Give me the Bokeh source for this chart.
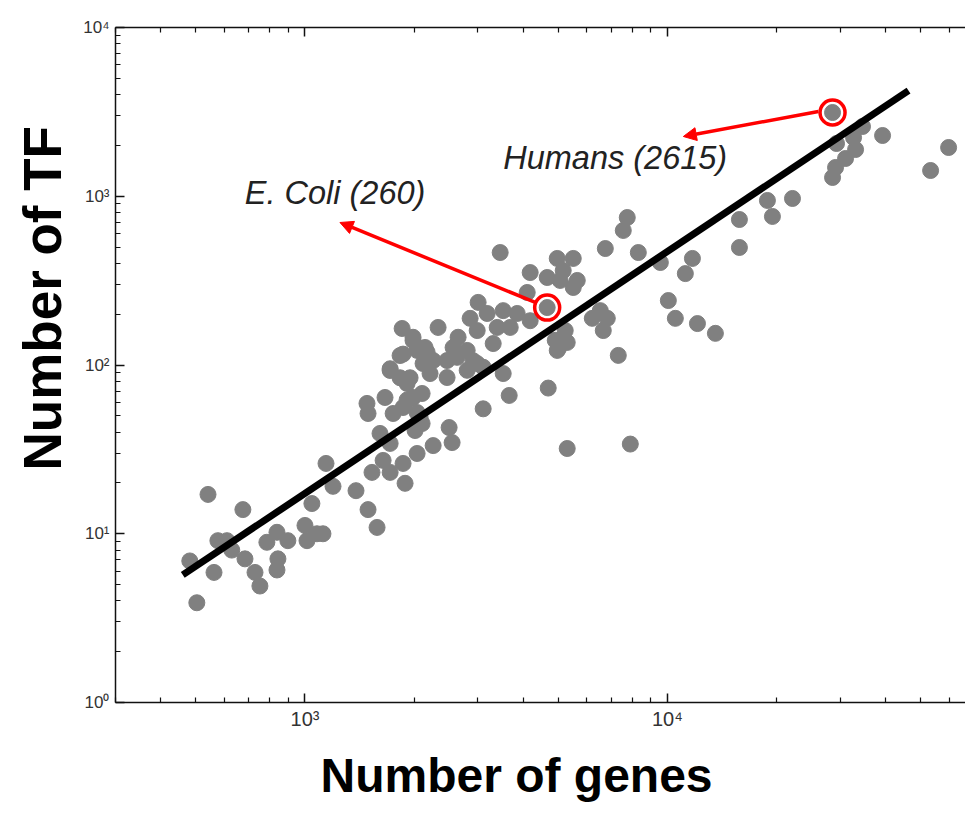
from bokeh.plotting import figure
from bokeh.models import Range1d, LogAxis, FixedTicker, Label, Arrow, NormalHead, CustomJSTickFormatter, Title
from bokeh.embed import file_html
from bokeh.resources import INLINE

# ---- data ----
genes = [481, 540, 503, 561, 575, 609, 628, 674, 683, 728,
         751, 785, 837, 842, 837, 897, 1000, 1013, 1079, 1121,
         1045, 1143, 1195, 1383, 1493, 1581, 1611, 1718, 1643, 1531,
         1718, 1865, 1889, 2039, 2013, 2258, 2499, 2547, 2105, 1483,
         1493, 1663, 1751, 1865, 1987, 2039, 1913, 2105, 1718, 1830,
         2118, 1987, 1854, 2330, 2258, 2467, 2467, 2563, 3457, 4968,
         4183, 4661, 4105, 3005, 2856, 3183, 3524, 3852, 2987, 3392,
         3307, 3685, 4183, 4905, 4968, 2646, 2803, 2630, 2173, 2118,
         1865, 1718, 1950, 2214, 2911, 3103, 3524, 3661, 3103, 4691,
         1913, 2078, 1987, 2145, 2039, 2803, 2987, 1830, 5500, 5160,
         5642, 5500, 5062, 6743, 7752, 7558, 8316, 9566, 11728, 11212,
         10064, 10522, 12108, 13572, 15810, 15810, 18890, 19500, 22150, 6531,
         6828, 6207, 6656, 5226, 5293, 5000, 7322, 5293, 7903, 39260,
         59730, 53270, 34560, 32650, 33070, 31030, 29120, 28570, 29300]
tfs = [6.9, 17.1, 3.9, 5.9, 9.1, 9.1, 8.0, 13.9, 7.1, 5.9,
       4.9, 8.9, 10.2, 7.1, 6.1, 9.1, 11.2, 9.1, 10.0, 10.0,
       15.1, 26.1, 19.1, 18.0, 13.9, 10.9, 39.3, 34.3, 27.2, 23.1,
       23.1, 26.1, 19.9, 29.9, 40.9, 33.3, 42.6, 34.7, 45.0, 59.2,
       51.6, 64.2, 51.6, 56.0, 64.2, 52.3, 77.7, 67.8, 92.8, 113.8,
       118.6, 139.7, 164.6, 166.9, 106.3, 106.3, 84.3, 126.9, 464, 428,
       353, 330, 269, 235, 189, 202, 210, 202, 160, 167,
       134, 167, 183, 140, 122, 146, 122, 111, 119, 102,
       116, 95, 84, 89, 106, 97, 89, 66, 55, 73,
       62, 49, 146, 127, 122, 93, 102, 84, 428, 363,
       317, 288, 317, 490, 748, 627, 464, 405, 428, 348,
       241, 189, 176, 154, 728, 497, 944, 759, 970, 210,
       189, 189, 160, 160, 136, 125, 114, 32, 34, 2291,
       1945, 1421, 2590, 2229, 1892, 1674, 1481, 1292, 2054]

highlight_names = ["E. Coli (260)", "Humans (2615)"]
highlight_genes = [4660, 28570]
highlight_tfs = [219, 3135]

fit_genes = [460, 46300]
fit_tfs = [5.7, 4230]

x_title = "Number of genes"
y_title = "Number of TF"

x_major = [1000, 10000]
y_major = [1, 10, 100, 1000, 10000]
x_tick_labels = {1000: "10³", 10000: "10⁴"}
y_tick_labels = {1: "10⁰", 10: "10¹", 100: "10²", 1000: "10³", 10000: "10⁴"}

x_minor = [m * 10 ** k for k in range(2, 5) for m in range(2, 10)]
y_minor = [m * 10 ** k for k in range(0, 4) for m in range(2, 10)]

# ---- figure ----
p = figure(width=965, height=818, x_axis_type="log", y_axis_type="log",
           x_range=Range1d(300, 66500), y_range=Range1d(1, 10000),
           output_backend="svg", toolbar_location=None,
           min_border_left=115, min_border_right=0, min_border_top=27,
           min_border_bottom=116)
p.grid.visible = False
p.outline_line_color = None
p.background_fill_color = "white"
p.border_fill_color = "white"

bottom = p.below[0]
left = p.left[0]
bottom.ticker = FixedTicker(ticks=x_major, minor_ticks=x_minor)
left.ticker = FixedTicker(ticks=y_major, minor_ticks=y_minor)
bottom.major_label_overrides = x_tick_labels
left.major_label_overrides = y_tick_labels

top = LogAxis(ticker=FixedTicker(ticks=x_major, minor_ticks=x_minor),
              formatter=CustomJSTickFormatter(code="return ''"))
p.add_layout(top, "above")

for ax in [bottom, left, top]:
    ax.axis_line_width = 1.5
    ax.axis_line_color = "#111111"
    ax.major_tick_in = 9
    ax.major_tick_out = 0
    ax.minor_tick_in = 5
    ax.minor_tick_out = 0
    ax.major_tick_line_width = 1.5
    ax.minor_tick_line_width = 1.2
    ax.major_tick_line_color = "#111111"
    ax.minor_tick_line_color = "#111111"
    ax.major_label_text_font = "Liberation Sans"
    ax.major_label_text_font_size = "17px"
    ax.major_label_text_color = "#333333"
    ax.major_label_standoff = 6
bottom.major_label_text_font_size = "20px"
bottom.major_label_standoff = 5

# axis titles (side titles, placed off-centre like the original)
p.add_layout(Title(text=x_title, align="left", offset=205, standoff=29,
                   text_font="Liberation Sans", text_font_style="bold",
                   text_font_size="48px", text_color="black"), "below")
p.add_layout(Title(text=y_title, align="left", offset=232, standoff=18,
                   text_font="Liberation Sans", text_font_style="bold",
                   text_font_size="53px", text_color="black"), "left")

# scatter points
p.scatter(genes, tfs, size=16, color="#808080", line_color="#808080")
p.scatter(highlight_genes, highlight_tfs, size=16, color="#808080", line_color="#808080")

# power-law fit
p.line(fit_genes, fit_tfs, line_width=7, color="black")

# highlighted organisms
p.scatter(highlight_genes, highlight_tfs, size=25, fill_alpha=0,
          line_color="red", line_width=3.5)

p.add_layout(Arrow(end=NormalHead(size=13, fill_color="red", line_color="red"),
                   x_start=4320, y_start=235, x_end=1249, y_end=699,
                   line_color="red", line_width=3.5))
p.add_layout(Arrow(end=NormalHead(size=13, fill_color="red", line_color="red"),
                   x_start=26120, y_start=3178, x_end=11070, y_end=2260,
                   line_color="red", line_width=3.5))

p.add_layout(Label(x=682, y=1052, text=highlight_names[0],
                   text_font="Liberation Sans", text_font_style="italic",
                   text_font_size="32.5px", text_color="#222222",
                   text_baseline="alphabetic"))
p.add_layout(Label(x=3524, y=1674, text=highlight_names[1],
                   text_font="Liberation Sans", text_font_style="italic",
                   text_font_size="32.5px", text_color="#222222",
                   text_baseline="alphabetic"))

open("out.html", "w").write(file_html(p, INLINE))
